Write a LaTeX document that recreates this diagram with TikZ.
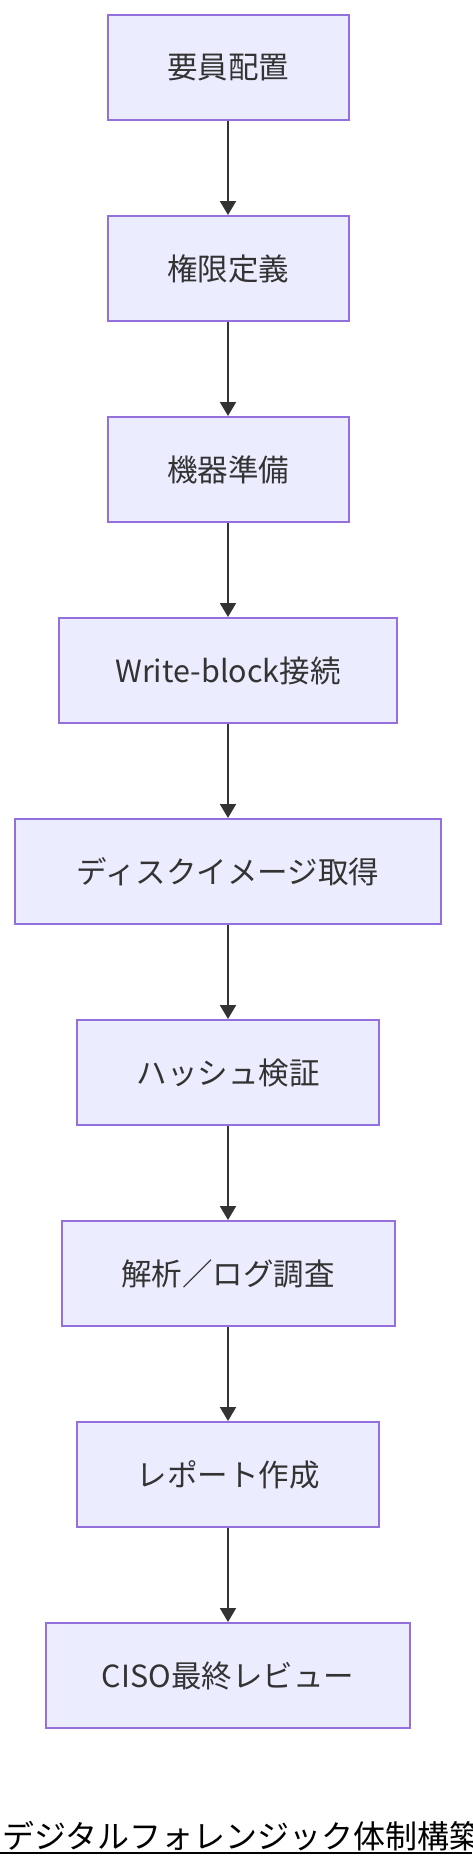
\documentclass[tikz,border=0pt]{standalone}
\usepackage{fontspec}
\setmainfont{Noto Sans CJK JP}
\newfontfamily\jpfont{Noto Sans CJK JP}
\usetikzlibrary{arrows.meta}
\definecolor{nodefill}{HTML}{ECECFF}
\definecolor{nodeline}{HTML}{9370DB}
\definecolor{edgecol}{HTML}{333333}
\definecolor{textcol}{HTML}{333333}
\begin{document}
\begin{tikzpicture}[x=1pt,y=-1pt,
  stepbox/.style={draw=nodeline, fill=nodefill, line width=2pt, rectangle,
    minimum height=105pt, inner sep=0pt, text=textcol,
    font=\jpfont\fontsize{30.5}{36}\selectfont},
  arr/.style={draw=edgecol, line width=2pt,
    -{Triangle[width=16pt,length=14pt]}},
  titlestyle/.style={anchor=base west, inner sep=0pt, text=black,
    font=\jpfont\fontsize{32}{38}\selectfont}]
\useasboundingbox (0,0) rectangle (472,1868);
\fill[white] (0,0) rectangle (472,1868);
\node[stepbox, minimum width=241pt] (n1) at (228,67.5) {要員配置};
\node[stepbox, minimum width=241pt] (n2) at (228,268.5) {権限定義};
\node[stepbox, minimum width=241pt] (n3) at (228,469.5) {機器準備};
\node[stepbox, minimum width=338pt] (n4) at (228,670.5) {Write-block接続};
\node[stepbox, minimum width=426pt] (n5) at (228,871.5) {ディスクイメージ取得};
\node[stepbox, minimum width=302pt] (n6) at (228,1072.5) {ハッシュ検証};
\node[stepbox, minimum width=333pt] (n7) at (228,1273.5) {解析／ログ調査};
\node[stepbox, minimum width=302pt] (n8) at (228,1474.5) {レポート作成};
\node[stepbox, minimum width=364pt] (n9) at (228,1675.5) {CISO最終レビュー};
\draw[arr] (n1.south) -- (n2.north);
\draw[arr] (n2.south) -- (n3.north);
\draw[arr] (n3.south) -- (n4.north);
\draw[arr] (n4.south) -- (n5.north);
\draw[arr] (n5.south) -- (n6.north);
\draw[arr] (n6.south) -- (n7.north);
\draw[arr] (n7.south) -- (n8.north);
\draw[arr] (n8.south) -- (n9.north);
\node[titlestyle] (title) at (2,1848) {デジタルフォレンジック体制構築};
\coordinate (ulL) at (0,1853);
\coordinate (ulR) at (472,1853);
\draw[line width=1.8pt, black] (ulL) -- (ulR);
\end{tikzpicture}
\end{document}
